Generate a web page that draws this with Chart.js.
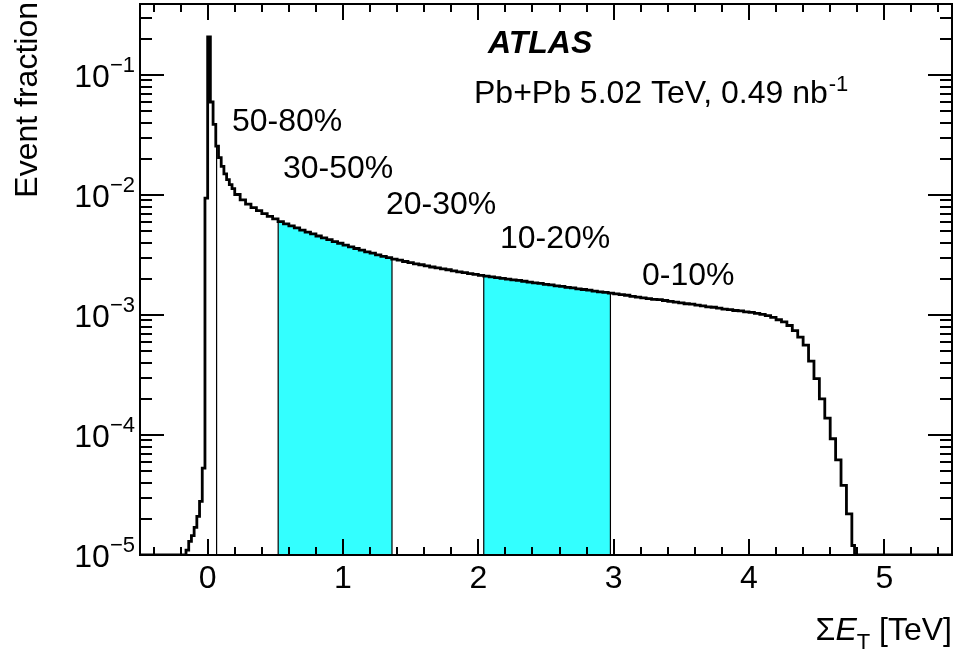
<!DOCTYPE html>
<html>
<head>
<meta charset="utf-8">
<script src="https://cdn.jsdelivr.net/npm/chart.js@4.4.1/dist/chart.umd.min.js"></script>
<style>
  html, body { margin: 0; padding: 0; background: #fff; }
  canvas { display: block; }
</style>
</head>
<body>
<canvas id="sumet-chart" width="957" height="656"></canvas>
<script>
// bin edges in TeV (fine bins round the peak, 0.04 TeV above 0.2)
const binEdges = [
  -0.5,
  -0.16, -0.14, -0.12, -0.10, -0.08, -0.06, -0.04, -0.02, 0.00, 0.02,
  0.04, 0.06, 0.08, 0.10, 0.12, 0.14, 0.16, 0.18,
  0.20, 0.24, 0.28, 0.32, 0.36, 0.40, 0.44, 0.48, 0.52, 0.56,
  0.60, 0.64, 0.68, 0.72, 0.76, 0.80, 0.84, 0.88, 0.92, 0.96,
  1.00, 1.04, 1.08, 1.12, 1.16, 1.20, 1.24, 1.28, 1.32, 1.36,
  1.40, 1.44, 1.48, 1.52, 1.56, 1.60, 1.64, 1.68, 1.72, 1.76,
  1.80, 1.84, 1.88, 1.92, 1.96, 2.00, 2.04, 2.08, 2.12, 2.16,
  2.20, 2.24, 2.28, 2.32, 2.36, 2.40, 2.44, 2.48, 2.52, 2.56,
  2.60, 2.64, 2.68, 2.72, 2.76, 2.80, 2.84, 2.88, 2.92, 2.96,
  3.00, 3.04, 3.08, 3.12, 3.16, 3.20, 3.24, 3.28, 3.32, 3.36,
  3.40, 3.44, 3.48, 3.52, 3.56, 3.60, 3.64, 3.68, 3.72, 3.76,
  3.80, 3.84, 3.88, 3.92, 3.96, 4.00, 4.04, 4.08, 4.12, 4.16,
  4.20, 4.24, 4.28, 4.32, 4.36, 4.40, 4.44, 4.48, 4.52, 4.56,
  4.60, 4.64, 4.68, 4.72, 4.76, 4.78, 5.5
];

// event fraction per bin (one value per bin)
const eventFraction = [
  0,
  1.1e-5, 1.3e-5, 1.45e-5, 1.7e-5, 2.1e-5, 2.8e-5, 5.3e-5, 0.0094, 0.207, 0.0595,
  0.0388, 0.0255, 0.0205, 0.0173, 0.0150, 0.0134, 0.0122, 0.0113,
  0.01009, 0.00910, 0.00838, 0.00783, 0.00740, 0.00700, 0.00664, 0.00631, 0.00600, 0.00575,
  0.00552, 0.00531, 0.00510, 0.00491, 0.00473, 0.00455, 0.00439, 0.00424, 0.00409, 0.00396,
  0.00382, 0.00370, 0.00358, 0.00347, 0.00336, 0.00327, 0.00317, 0.00308, 0.00300, 0.00292,
  0.00286, 0.00279, 0.00273, 0.00267, 0.00262, 0.00256, 0.00251, 0.00247, 0.00242, 0.00238,
  0.00233, 0.00229, 0.00225, 0.00221, 0.00218, 0.00214, 0.00211, 0.00208, 0.00205, 0.00202,
  0.00199, 0.00196, 0.00194, 0.00191, 0.00188, 0.00185, 0.00183, 0.00180, 0.00178, 0.00175,
  0.00173, 0.00170, 0.00168, 0.00165, 0.00163, 0.00161, 0.00158, 0.00156, 0.00154, 0.00152,
  0.00150, 0.00148, 0.00146, 0.00143, 0.00141, 0.00139, 0.00137, 0.00135, 0.00134, 0.00132,
  0.00130, 0.00128, 0.00126, 0.00124, 0.00123, 0.00121, 0.00119, 0.00117, 0.00116, 0.00114,
  0.00112, 0.00111, 0.00109, 0.00108, 0.00106, 0.00105, 0.00103, 0.00101, 0.000986, 0.000955,
  0.000912, 0.000875, 0.000817, 0.000741, 0.000653, 0.000560, 0.000412, 0.000295, 0.000200, 0.000138,
  0.000093, 0.000062, 0.000038, 0.000022, 0.000012, 0
];

// sum ET at the 80, 50, 30, 20, 10 % centrality cuts
const centralityCuts = [0.066, 0.521, 1.362, 2.040, 2.976];
const shadedClasses = [[0.521, 1.362], [2.040, 2.976]];
const centralityLabels = ['50-80%', '30-50%', '20-30%', '10-20%', '0-10%'];
const xTicks = [0, 1, 2, 3, 4, 5];
const yTickExps = [-5, -4, -3, -2, -1];

const Y_MIN = 1e-5;
const Y_MAX = 0.39;
const FONT = '"Liberation Sans", Arial, Helvetica, sans-serif';
const CYAN = '#33ffff';

// log axis drops zeros, so empty bins sit on the axis floor like in ROOT
const floorY = v => Math.max(v, Y_MIN);

function binValueAt(x) {
  for (let i = 0; i < eventFraction.length; i++) {
    if (x >= binEdges[i] && x < binEdges[i + 1]) return eventFraction[i];
  }
  return 0;
}

const histPoints = eventFraction.map((v, i) => ({x: binEdges[i], y: floorY(v)}));
histPoints.push({x: binEdges[binEdges.length - 1], y: floorY(eventFraction[eventFraction.length - 1])});

function shadedPoints(lo, hi) {
  const pts = [{x: lo, y: floorY(binValueAt(lo))}];
  binEdges.forEach((e, i) => {
    if (e > lo && e < hi) pts.push({x: e, y: floorY(eventFraction[i])});
  });
  pts.push({x: hi, y: floorY(binValueAt(hi))});
  return pts;
}

// frame, inward ticks, labels and text, ROOT style
const atlasDecor = {
  id: 'atlasDecor',
  afterDraw(chart) {
    const {ctx, chartArea: a} = chart;
    const xs = chart.scales.x, ys = chart.scales.y;
    ctx.save();
    ctx.strokeStyle = '#000';
    ctx.fillStyle = '#000';

    // ticks
    ctx.lineWidth = 2;
    ctx.beginPath();
    for (let k = -2; k <= 27; k++) {
      const v = k * 0.2;
      const px = Math.round(xs.getPixelForValue(v));
      const len = (k % 5 === 0) ? 16 : 8;
      ctx.moveTo(px, a.bottom); ctx.lineTo(px, a.bottom - len);
      ctx.moveTo(px, a.top); ctx.lineTo(px, a.top + len);
    }
    yTickExps.forEach(e => {
      for (let m = 1; m <= 9; m++) {
        const v = m * Math.pow(10, e);
        if (v > ys.max) continue;
        const py = Math.round(ys.getPixelForValue(v));
        const len = m === 1 ? 24 : 12;
        ctx.moveTo(a.left, py); ctx.lineTo(a.left + len, py);
        ctx.moveTo(a.right, py); ctx.lineTo(a.right - len, py);
      }
    });
    ctx.stroke();

    // frame
    ctx.lineWidth = 2;
    ctx.strokeRect(a.left, a.top, a.right - a.left, a.bottom - a.top);

    // x tick labels
    ctx.font = '32px ' + FONT;
    ctx.textAlign = 'center';
    ctx.textBaseline = 'alphabetic';
    xTicks.forEach(t => ctx.fillText(String(t), xs.getPixelForValue(t), 588));

    // y tick labels 10^e
    yTickExps.forEach(e => {
      const py = ys.getPixelForValue(Math.pow(10, e));
      const sup = '\u2212' + Math.abs(e);
      ctx.font = '22px ' + FONT;
      const supW = ctx.measureText(sup).width;
      ctx.textAlign = 'left';
      ctx.fillText(sup, 135 - supW, py - 3);
      ctx.font = '32px ' + FONT;
      ctx.textAlign = 'right';
      ctx.fillText('10', 135 - supW, py + 12);
    });

    // y title
    ctx.save();
    ctx.translate(37, a.top - 2);
    ctx.rotate(-Math.PI / 2);
    ctx.font = '32px ' + FONT;
    ctx.textAlign = 'right';
    ctx.fillText('Event fraction', 0, 0);
    ctx.restore();

    // x title: ΣE_T [TeV], right aligned
    ctx.textAlign = 'left';
    let right = 952;
    const base = 640;
    ctx.font = '32px ' + FONT;
    const unitW = ctx.measureText(' [TeV]').width;
    ctx.fillText(' [TeV]', right - unitW, base);
    right -= unitW;
    ctx.font = '22px ' + FONT;
    const subW = ctx.measureText('T').width;
    ctx.fillText('T', right - subW, base + 9);
    right -= subW;
    ctx.font = 'italic 32px ' + FONT;
    const eW = ctx.measureText('E').width;
    ctx.fillText('E', right - eW, base);
    right -= eW;
    ctx.font = '32px ' + FONT;
    const sW = ctx.measureText('\u03a3').width;
    ctx.fillText('\u03a3', right - sW, base);

    // centrality class labels
    const labelPos = [[232, 131], [283, 178], [386, 214], [500, 248], [642, 285]];
    ctx.font = '32px ' + FONT;
    centralityLabels.forEach((t, i) => ctx.fillText(t, labelPos[i][0], labelPos[i][1]));

    // ATLAS label
    ctx.font = 'italic bold 32px ' + FONT;
    ctx.fillText('ATLAS', 488, 53);
    ctx.font = '32px ' + FONT;
    const lumi = 'Pb+Pb 5.02 TeV, 0.49 nb';
    ctx.fillText(lumi, 474, 103);
    const lw = ctx.measureText(lumi).width;
    ctx.font = '22px ' + FONT;
    ctx.fillText('-1', 474 + lw + 1, 91);

    ctx.restore();
  }
};

new Chart(document.getElementById('sumet-chart'), {
  type: 'line',
  data: {
    datasets: [
      {
        data: histPoints,
        stepped: 'before',
        borderColor: '#000',
        borderWidth: 2.8,
        pointRadius: 0,
        fill: false,
        order: 0
      },
      ...centralityCuts.map(c => ({
        data: [{x: c, y: Y_MIN}, {x: c, y: binValueAt(c)}],
        borderColor: '#000',
        borderWidth: 1.2,
        pointRadius: 0,
        fill: false,
        order: 1
      })),
      ...shadedClasses.map(([lo, hi]) => ({
        data: shadedPoints(lo, hi),
        stepped: 'before',
        borderWidth: 0,
        borderColor: 'rgba(0,0,0,0)',
        backgroundColor: CYAN,
        fill: 'start',
        pointRadius: 0,
        order: 2
      }))
    ]
  },
  options: {
    responsive: false,
    animation: false,
    devicePixelRatio: 1,
    layout: {padding: {left: 140, top: 4, right: 5, bottom: 101}},
    plugins: {legend: {display: false}, tooltip: {enabled: false}},
    scales: {
      x: {type: 'linear', min: -0.5, max: 5.5, display: false},
      y: {type: 'logarithmic', min: Y_MIN, max: Y_MAX, display: false}
    }
  },
  plugins: [atlasDecor]
});
</script>
</body>
</html>
